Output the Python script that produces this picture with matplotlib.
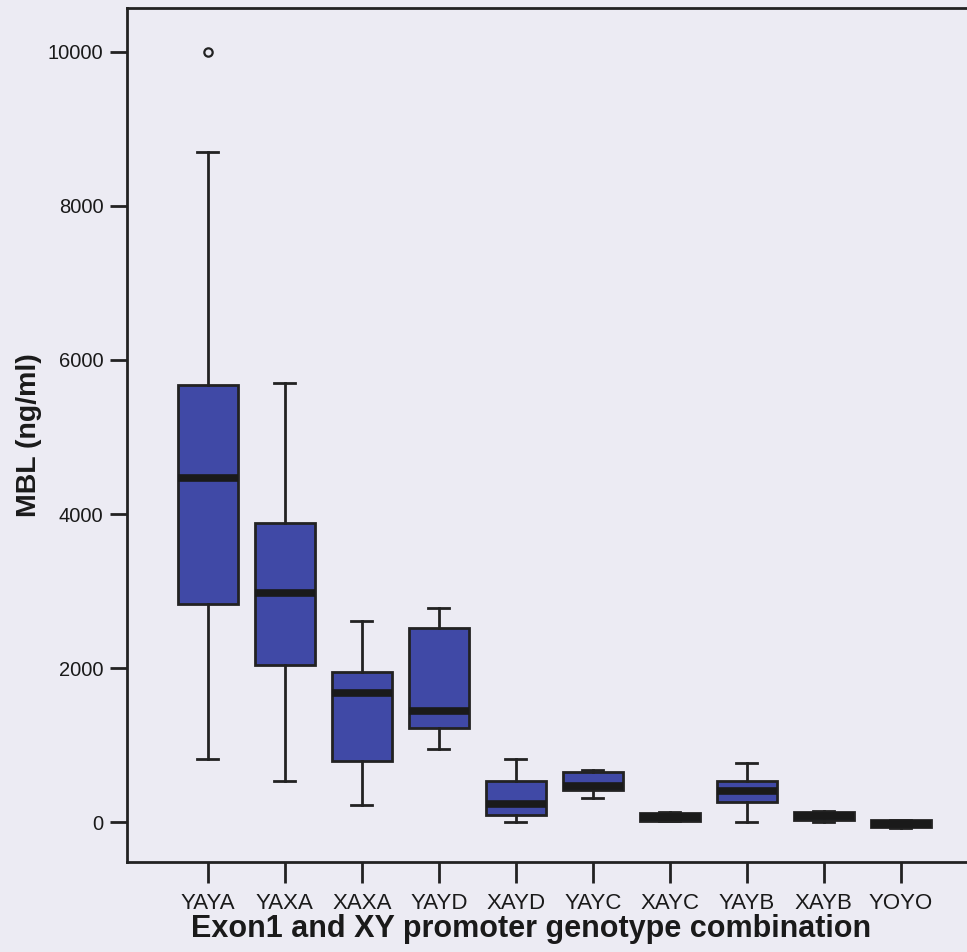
import matplotlib
matplotlib.use("Agg")
import matplotlib.pyplot as plt

# MBL levels by exon1 / XY promoter genotype combination
genotypes = ['YAYA', 'YAXA', 'XAXA', 'YAYD', 'XAYD', 'YAYC', 'XAYC', 'YAYB', 'XAYB', 'YOYO']
whisker_low = [820, 530, 220, 950, 0, 310, 10, 0, 0, -80]
q1 = [2830, 2040, 790, 1220, 90, 420, 15, 260, 25, -60]
median = [4470, 2975, 1675, 1440, 235, 470, 65, 400, 80, -20]
q3 = [5675, 3880, 1950, 2520, 530, 650, 115, 530, 130, 25]
whisker_high = [8700, 5700, 2610, 2780, 820, 680, 125, 770, 140, 30]
outliers = [[10000], [], [], [], [], [], [], [], [], []]

plt.rcParams['font.family'] = ['Liberation Sans', 'DejaVu Sans']

fig = plt.figure(figsize=(9.67, 9.52), dpi=100)
fig.patch.set_facecolor('#ecebf3')
ax = fig.add_axes([127 / 967, 1 - 862 / 952, 1 - 127 / 967, (862 - 8) / 952])
ax.set_facecolor('#ecebf3')

stats = []
for i, g in enumerate(genotypes):
    stats.append({'label': g, 'whislo': whisker_low[i], 'q1': q1[i], 'med': median[i],
                  'q3': q3[i], 'whishi': whisker_high[i], 'fliers': outliers[i]})

ink = '#222222'
ax.bxp(stats, positions=range(len(genotypes)), widths=0.78, patch_artist=True,
       boxprops=dict(facecolor='#4049a6', edgecolor=ink, linewidth=2),
       medianprops=dict(color='#1a1a1a', linewidth=5.5, solid_capstyle='butt'),
       whiskerprops=dict(color=ink, linewidth=2),
       capprops=dict(color=ink, linewidth=2),
       capwidths=0.27,
       flierprops=dict(marker='o', markersize=6, markerfacecolor='none',
                       markeredgecolor=ink, markeredgewidth=1.6))

ax.set_xlim(-1.05, 9.86)
ax.set_ylim(-519, 10571)
ax.set_yticks([0, 2000, 4000, 6000, 8000, 10000])
ax.set_xticks(range(len(genotypes)))
ax.set_xticklabels(genotypes)

for side in ['left', 'bottom', 'top']:
    ax.spines[side].set_linewidth(2)
    ax.spines[side].set_color(ink)
ax.spines['right'].set_visible(False)
ax.tick_params(axis='both', direction='out', length=12, width=2, color=ink,
               labelsize=14.5, labelcolor='#1a1a1a', pad=5)
ax.tick_params(axis='x', length=15, labelsize=16, pad=7)

ax.set_xlabel('Exon1 and XY promoter genotype combination', fontsize=22,
              fontweight='bold', color='#1a1a1a', va='baseline')
ax.set_ylabel('MBL (ng/ml)', fontsize=20.5, fontweight='bold', color='#1a1a1a')
ax.xaxis.set_label_coords(0.4815, -0.0878)
ax.yaxis.set_label_coords(-0.101, 0.5)

fig.savefig('out.png', dpi=100, facecolor=fig.get_facecolor())
